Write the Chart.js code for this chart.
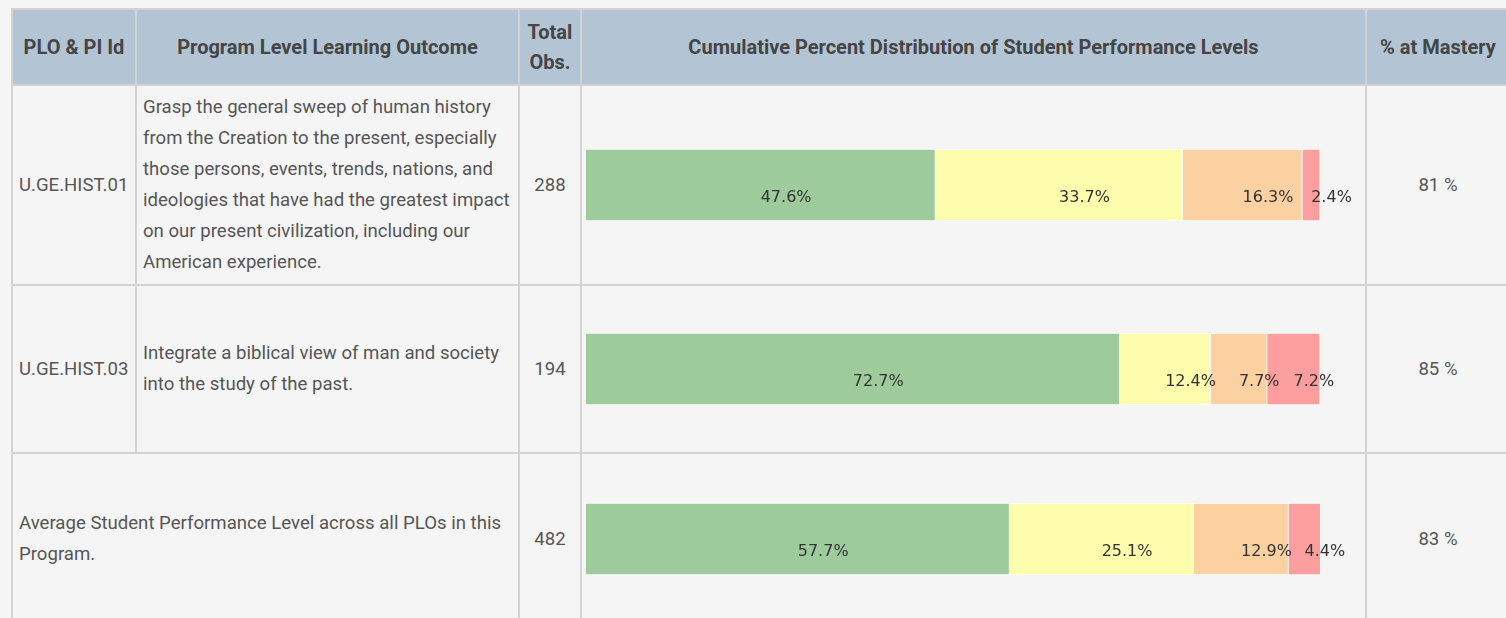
<!DOCTYPE html>
<html>
<head>
<meta charset="utf-8">
<script src="https://cdn.jsdelivr.net/npm/chart.js@4/dist/chart.umd.min.js"></script>
<style>
  html, body { margin: 0; padding: 0; background: #f5f5f5; overflow: hidden; }
  body { width: 1506px; height: 618px; }
  table {
    position: absolute; left: 11px; top: 8px;
    border-collapse: collapse; table-layout: fixed; width: 1498px;
    font-family: Roboto, sans-serif; font-size: 18.6px; color: #555;
  }
  th, td { border: 2px solid #d3d3d3; padding: 0 6px; }
  th {
    background: #b3c4d5; color: #454545; font-weight: bold; font-size: 20px;
    line-height: 30px; height: 74px; text-align: center;
  }
  td { background: #f5f5f5; line-height: 31px; vertical-align: middle; }
  td.c { text-align: center; }
  td.chart { padding-left: 4px; }
  .bar { position: relative; width: 774px; height: 100px; }
</style>
</head>
<body>
<table>
  <colgroup>
    <col style="width:124px"><col style="width:383px"><col style="width:62px"><col style="width:785px"><col style="width:144px">
  </colgroup>
  <thead><tr id="head"></tr></thead>
  <tbody id="rows"></tbody>
</table>
<script>
// table headings
const headers = ['PLO &amp; PI Id', 'Program Level Learning Outcome', 'Total Obs.', 'Cumulative Percent Distribution of Student Performance Levels', '% at Mastery'];

// rows
const ploIds = ['U.GE.HIST.01', 'U.GE.HIST.03'];
const outcomes = [
  'Grasp the general sweep of human history from the Creation to the present, especially those persons, events, trends, nations, and ideologies that have had the greatest impact on our present civilization, including our American experience.',
  'Integrate a biblical view of man and society into the study of the past.',
];
const averageLabel = 'Average Student Performance Level across all PLOs in this Program.';
const totalObs = [288, 194, 482];
const atMastery = [81, 85, 83];

// performance level distribution (percent)
const level1 = [47.6, 72.7, 57.7];
const level2 = [33.7, 12.4, 25.1];
const level3 = [16.3, 7.7, 12.9];
const level4 = [2.4, 7.2, 4.4];
const levelColors = ['#9dcb9c', '#fefdae', '#fbd1a2', '#fd9e9e'];
const rowHeights = [200, 168, 172];

document.getElementById('head').innerHTML = headers.map(h => '<th>' + h + '</th>').join('');

const tbody = document.getElementById('rows');
totalObs.forEach((n, i) => {
  const tr = document.createElement('tr');
  tr.style.height = rowHeights[i] + 'px';
  let first = i < ploIds.length
    ? '<td>' + ploIds[i] + '</td><td>' + outcomes[i] + '</td>'
    : '<td colspan="2">' + averageLabel + '</td>';
  tr.innerHTML = first +
    '<td class="c">' + n + '</td>' +
    '<td class="chart"><div class="bar"><canvas id="bar' + i + '"></canvas></div></td>' +
    '<td class="c">' + atMastery[i] + ' %</td>';
  tbody.appendChild(tr);
});

// percent text drawn from the bar's midpoint
const barText = {
  id: 'barText',
  afterDatasetsDraw(chart) {
    const ctx = chart.ctx;
    ctx.save();
    ctx.font = '16px "DejaVu Sans"';
    ctx.fillStyle = '#333';
    ctx.textAlign = 'left';
    ctx.textBaseline = 'alphabetic';
    chart.data.datasets.forEach((ds, d) => {
      chart.getDatasetMeta(d).data.forEach((bar, j) => {
        ctx.fillText(ds.data[j].toFixed(1) + '%', (bar.x + bar.base) / 2, bar.y + 17);
      });
    });
    ctx.restore();
  }
};

totalObs.forEach((n, i) => {
  new Chart(document.getElementById('bar' + i), {
    type: 'bar',
    data: {
      labels: [''],
      datasets: [level1, level2, level3, level4].map((lv, k) => ({
        data: [lv[i]],
        backgroundColor: levelColors[k],
        borderColor: '#ffffff',
        borderWidth: 1,
        barThickness: 72,
      })),
    },
    options: {
      indexAxis: 'y',
      responsive: true,
      maintainAspectRatio: false,
      animation: false,
      layout: { padding: { right: 40 } },
      plugins: { legend: { display: false }, tooltip: { enabled: false } },
      scales: {
        x: { stacked: true, min: 0, max: 100, display: false },
        y: { stacked: true, display: false },
      },
    },
    plugins: [barText],
  });
});
</script>
</body>
</html>
